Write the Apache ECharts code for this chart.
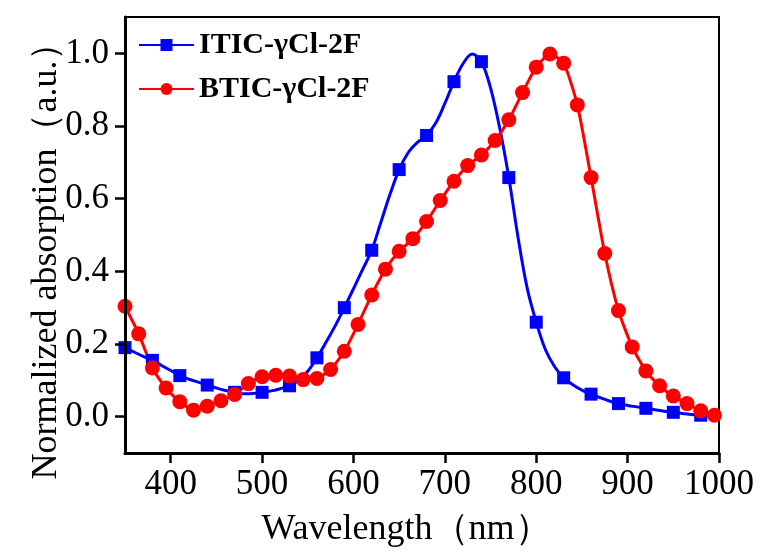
<!DOCTYPE html>
<html>
<head>
<meta charset="utf-8">
<script src="https://cdn.jsdelivr.net/npm/echarts@6/dist/echarts.min.js"></script>
<style>html,body{margin:0;padding:0;background:#fff}#c{width:765px;height:552px}</style>
</head>
<body>
<div id="c"></div>
<script>
// ITIC-γCl-2F curve (every 10 nm); markers every 30 nm starting at 350
const iticWavelength = [350,360,370,380,390,400,410,420,430,440,450,460,470,480,490,500,510,520,530,540,550,560,570,580,590,600,610,620,630,640,650,660,670,680,690,700,710,720,730,740,750,760,770,780,790,800,810,820,830,840,850,860,870,880,890,900,910,920,930,940,950,960,970,980,990];
const iticAbs = [0.190,0.178,0.166,0.155,0.141,0.127,0.113,0.103,0.095,0.087,0.079,0.072,0.067,0.063,0.064,0.067,0.071,0.077,0.085,0.100,0.125,0.162,0.205,0.250,0.300,0.352,0.405,0.458,0.535,0.612,0.680,0.727,0.755,0.774,0.808,0.862,0.922,0.972,0.998,0.977,0.905,0.795,0.658,0.495,0.355,0.260,0.185,0.138,0.107,0.088,0.073,0.062,0.052,0.043,0.036,0.031,0.027,0.023,0.019,0.015,0.012,0.009,0.006,0.004,0.002];
const iticMarkerWavelengths = [350,380,410,440,470,500,530,560,590,620,650,680,710,740,770,800,830,860,890,920,950,980];

// BTIC-γCl-2F (every 15 nm)
const bticWavelength = [350,365,380,395,410,425,440,455,470,485,500,515,530,545,560,575,590,605,620,635,650,665,680,695,710,725,740,755,770,785,800,815,830,845,860,875,890,905,920,935,950,965,980,995];
const bticAbs = [0.304,0.228,0.134,0.079,0.041,0.018,0.029,0.044,0.061,0.091,0.110,0.114,0.112,0.102,0.105,0.130,0.180,0.254,0.335,0.406,0.455,0.490,0.537,0.595,0.648,0.691,0.720,0.760,0.817,0.892,0.962,0.998,0.973,0.858,0.658,0.449,0.292,0.192,0.126,0.085,0.057,0.036,0.016,0.004];

const seriesNames = ['ITIC-γCl-2F','BTIC-γCl-2F'];
const xTitle = 'Wavelength（nm）';
const yTitle = 'Normalized absorption（a.u.）';

const FONT = 'Liberation Serif';

const iticData = iticWavelength.map((w,i) => {
  const item = {value:[w, iticAbs[i]]};
  if (iticMarkerWavelengths.indexOf(w) < 0) item.symbol = 'none';
  return item;
});
const bticData = bticWavelength.map((w,i) => [w, bticAbs[i]]);

const chart = echarts.init(document.getElementById('c'), null, {renderer:'canvas'});
chart.setOption({
  animation:false,
  grid:{left:125,right:46,top:17,bottom:99, show:true, borderColor:'#000', borderWidth:2, backgroundColor:'transparent'},
  graphic:[
    {type:'text', x:406, y:530, style:{text:xTitle, fontFamily:FONT, fontSize:36, fill:'#000', align:'center', verticalAlign:'middle'}},
    {type:'text', x:47, y:252, rotation:Math.PI/2, style:{text:yTitle, fontFamily:FONT, fontSize:36, fill:'#000', align:'center', verticalAlign:'middle'}}
  ],
  legend:{
    orient:'vertical', left:133, top:25, itemWidth:55, itemHeight:15, itemGap:14,
    textStyle:{fontFamily:FONT, fontWeight:'bold', fontSize:30, color:'#000'},
    data:seriesNames
  },
  xAxis:{
    type:'value', min:350, max:1000, z:5,
    axisLine:{show:true, onZero:false, lineStyle:{color:'#000000', width:3}},
    axisTick:{show:true, length:10, lineStyle:{color:'#000000', width:2.5}},
    axisLabel:{showMinLabel:false, margin:14, fontFamily:FONT, fontSize:35, color:'#000000',
      formatter:v => String(v)},
    splitLine:{show:false}
  },
  yAxis:{
    type:'value', min:-0.1, max:1.1, z:5,
    axisLine:{show:true, onZero:false, lineStyle:{color:'#000000', width:3}},
    axisTick:{show:true, length:10, lineStyle:{color:'#000000', width:2.5}},
    axisLabel:{showMinLabel:false, showMaxLabel:false, margin:16, fontFamily:FONT, fontSize:35, color:'#000000',
      formatter:v => v.toFixed(1)},
    splitLine:{show:false}
  },
  series:[{
    name:seriesNames[0], type:'line', data:iticData, smooth:0.35, clip:false,
    symbol:'rect', symbolSize:13, showSymbol:true,
    lineStyle:{color:'#0000ff', width:3}, itemStyle:{color:'#0000ff'}
  },{
    name:seriesNames[1], type:'line', data:bticData, smooth:0.2, clip:false,
    symbol:'circle', symbolSize:15, showSymbol:true,
    lineStyle:{color:'#ff0000', width:3}, itemStyle:{color:'#ff0000'}
  }]
});
</script>
</body>
</html>
